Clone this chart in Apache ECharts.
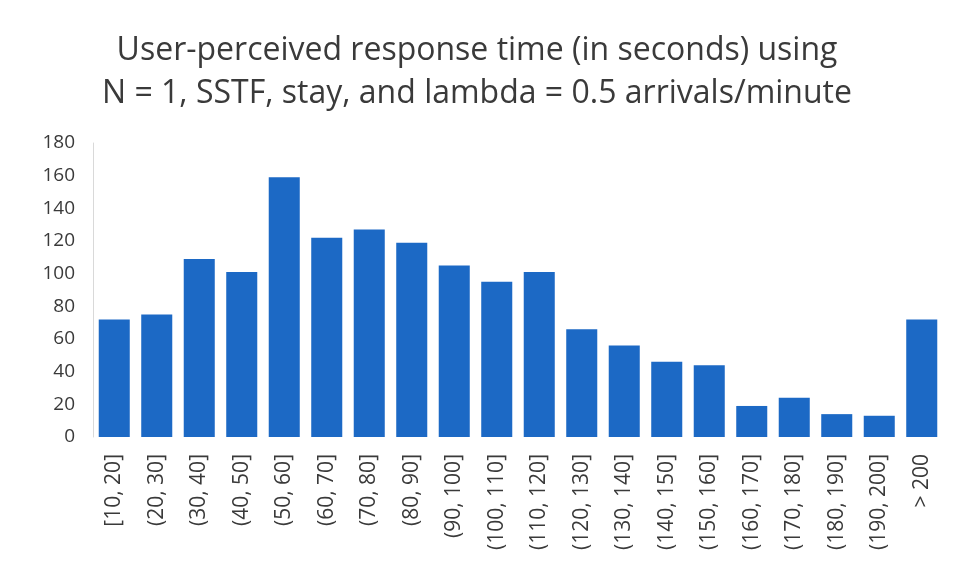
<!DOCTYPE html>
<html>
<head>
<meta charset="utf-8">
<script src="https://cdn.jsdelivr.net/npm/echarts@6/dist/echarts.min.js"></script>
<style>
  html, body { margin: 0; padding: 0; background: #fff; }
  #chart { width: 954px; height: 580px; }
</style>
</head>
<body>
<div id="chart"></div>
<script>
const categories = ['[10, 20]', '(20, 30]', '(30, 40]', '(40, 50]', '(50, 60]', '(60, 70]', '(70, 80]',
  '(80, 90]', '(90, 100]', '(100, 110]', '(110, 120]', '(120, 130]', '(130, 140]', '(140, 150]',
  '(150, 160]', '(160, 170]', '(170, 180]', '(180, 190]', '(190, 200]', '> 200'];
const counts = [72, 75, 109, 101, 159, 122, 127, 119, 105, 95, 101, 66, 56, 46, 44, 19, 24, 14, 13, 72];
const titleLines = ['User-perceived response time (in seconds) using',
  'N = 1, SSTF, stay, and lambda = 0.5 arrivals/minute'];

const chart = echarts.init(document.getElementById('chart'));
const textColor = '#3a3a3a';
const font = 'Open Sans';

chart.setOption({
  backgroundColor: '#fff',
  animation: false,
  title: {
    text: titleLines.join('\n'),
    left: 'center',
    top: 24,
    textStyle: {
      color: textColor,
      fontFamily: font,
      fontWeight: 'normal',
      fontSize: 32,
      lineHeight: 43
    }
  },
  grid: { left: 93, right: 11, top: 143, bottom: 143 },
  xAxis: {
    type: 'category',
    data: categories,
    axisLine: { show: false },
    axisTick: { show: false },
    axisLabel: {
      rotate: 90,
      interval: 0,
      margin: 17,
      color: textColor,
      fontFamily: font,
      fontSize: 21
    }
  },
  yAxis: {
    type: 'value',
    min: 0,
    max: 180,
    interval: 20,
    axisLine: { show: true, lineStyle: { color: '#d9d9d9', width: 1 } },
    axisTick: { show: false },
    splitLine: { show: false },
    axisLabel: {
      margin: 18,
      color: textColor,
      fontFamily: font,
      fontSize: 19
    }
  },
  series: [{
    type: 'bar',
    data: counts,
    barCategoryGap: '27%',
    itemStyle: { color: '#1c69c5' }
  }]
});
</script>
</body>
</html>
